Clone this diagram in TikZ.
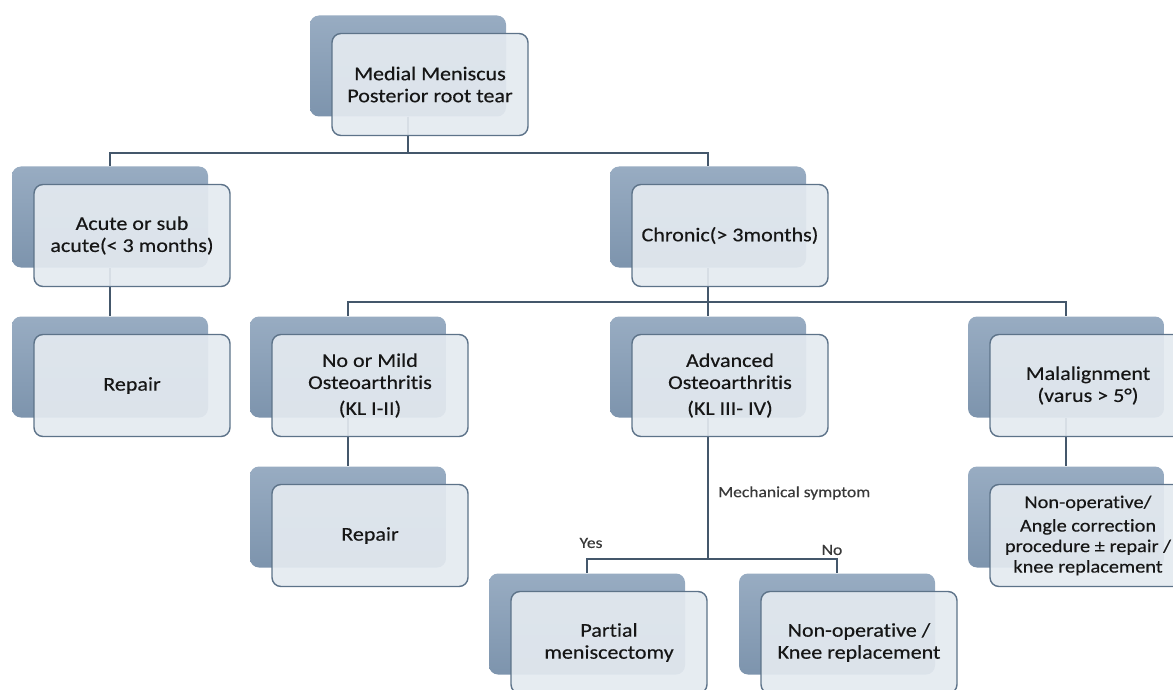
\documentclass[tikz,border=0pt]{standalone}
\usepackage{fontspec}
\setmainfont{Carlito}[FakeStretch=1.13, FakeBold=0.35, Ligatures=NoCommon]
\definecolor{backtop}{HTML}{98ACC2}
\definecolor{backbot}{HTML}{7D94AD}
\definecolor{cardfill}{HTML}{E4EAF0}
\definecolor{cardline}{HTML}{5D7389}
\definecolor{linkcol}{HTML}{44576B}
\definecolor{ink}{HTML}{161616}

\begin{document}
\begin{tikzpicture}[x=1pt, y=-1pt,
  back/.style={rounded corners=9pt, minimum width=196pt, minimum height=101pt,
    top color=backtop, bottom color=backbot, inner sep=0pt},
  card/.style={rounded corners=9pt, minimum width=196pt, minimum height=102pt,
    draw=cardline, line width=1.4pt, fill=cardfill, fill opacity=0.92,
    text opacity=1, text=ink, align=center, inner sep=2pt,
    font=\fontsize{19.5}{22}\selectfont},
  link/.style={draw=linkcol, line width=1.3pt},
  small/.style={text=ink!85, inner sep=0pt, font=\fontsize{15.5}{17}\selectfont}]

\useasboundingbox (0,0) rectangle (1173,690);

% back plates
\node[back] (topbk) at (408, 66) {};
\node[back] (acutebk) at (110, 217) {};
\node[back] (chronicbk) at (708, 217) {};
\node[back] (repairAbk) at (110, 367) {};
\node[back] (mildbk) at (348, 367) {};
\node[back] (advbk) at (708, 367) {};
\node[back] (malalignbk) at (1066, 367) {};
\node[back] (repairBbk) at (348, 517) {};
\node[back] (nonopRbk) at (1066, 517) {};
\node[back] (partialbk) at (587, 624) {};
\node[back] (nonopKbk) at (837, 624) {};

% bus points
\coordinate (bus1) at (408, 153);
\coordinate (bus2) at (708, 302);
\coordinate (bus3) at (708, 559);

\draw[link] (topbk.south) -- (bus1) -| (acutebk.north);
\draw[link] (bus1) -| (chronicbk.north);
\draw[link] (acutebk.south) -- (repairAbk.north);
\draw[link] (chronicbk.south) -- (bus2) -| (mildbk.north);
\draw[link] (bus2) -- (advbk.north);
\draw[link] (bus2) -| (malalignbk.north);
\draw[link] (mildbk.south) -- (repairBbk.north);
\draw[link] (malalignbk.south) -- (nonopRbk.north);
\draw[link] (advbk.south) -- (bus3) -| (partialbk.north);
\draw[link] (bus3) -| (nonopKbk.north);

% front cards
\node[card] (top) at ([shift={(22,18.5)}]topbk) {Medial Meniscus\\Posterior root tear};
\node[card] (acute) at ([shift={(22,18.5)}]acutebk) {Acute or sub\\acute(< 3 months)};
\node[card] (chronic) at ([shift={(22,18.5)}]chronicbk) {Chronic(> 3months)};
\node[card] (repairA) at ([shift={(22,18.5)}]repairAbk) {Repair};
\node[card] (mild) at ([shift={(22,18.5)}]mildbk) {No or Mild\\Osteoarthritis\\[4pt](KL I-II)};
\node[card] (adv) at ([shift={(22,18.5)}]advbk) {Advanced\\Osteoarthritis\\[4pt](KL III- IV)};
\node[card] (malalign) at ([shift={(22,18.5)}]malalignbk) {Malalignment\\(varus > 5°)};
\node[card] (repairB) at ([shift={(22,18.5)}]repairBbk) {Repair};
\node[card, font=\fontsize{18}{20.5}\selectfont] (nonopR) at ([shift={(22,18.5)}]nonopRbk) {Non-operative/\\[3pt]Angle correction\\procedure ± repair /\\knee replacement};
\node[card] (partial) at ([shift={(22,18.5)}]partialbk) {Partial\\meniscectomy};
\node[card] (nonopK) at ([shift={(22,18.5)}]nonopKbk) {Non-operative /\\Knee replacement};

% branch labels
\node[small, anchor=west] (mech) at (718, 493) {Mechanical symptom};
\node[small] (yes) at (591, 543) {Yes};
\node[small] (no) at (832, 550) {No};

\end{tikzpicture}
\end{document}
